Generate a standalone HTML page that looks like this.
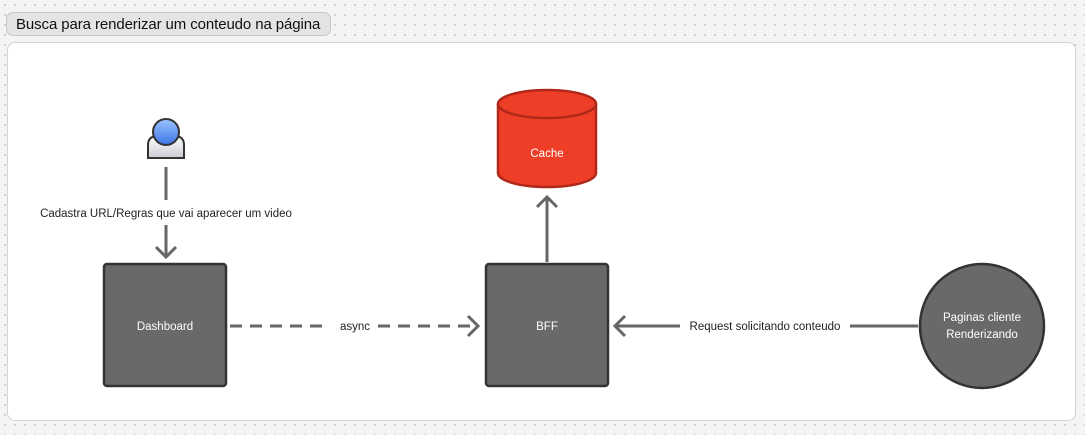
<!DOCTYPE html>
<html><head><style>
body{margin:0;width:1085px;height:435px;overflow:hidden;background:#f4f4f4;background-image:radial-gradient(#c8c8c8 0.8px,transparent 1px);background-size:10px 10px;font-family:"Liberation Sans",sans-serif;position:relative}
.title{position:absolute;left:6px;top:12px;width:325px;height:24px;background:#e4e4e4;border:1px solid #c8c8c8;border-radius:7px;font-size:15px;line-height:24px;padding-left:9px;box-sizing:border-box;color:#111;font-weight:500;letter-spacing:-0.1px}
.frame{position:absolute;left:7px;top:42px;width:1069px;height:379px;background:#fff;border:1px solid #d4d4d4;border-radius:8px;box-sizing:border-box}
</style></head><body>
<div class="title">Busca para renderizar um conteudo na página</div>
<div class="frame"></div>
<svg width="1085" height="435" style="position:absolute;left:0;top:0" font-family="Liberation Sans, sans-serif">
<defs><linearGradient id="g" x1="0" y1="0" x2="0" y2="1"><stop offset="0" stop-color="#9cc3ff"/><stop offset="1" stop-color="#3b74e6"/></linearGradient>
<linearGradient id="b" x1="0" y1="0" x2="0" y2="1"><stop offset="0" stop-color="#fff"/><stop offset="1" stop-color="#c9ccd2"/></linearGradient></defs>
<path d="M148 158 L148 145 Q148 137 156 136 L176 136 Q184 137 184 145 L184 158 Z" fill="url(#b)" stroke="#333" stroke-width="2"/>
<circle cx="166" cy="132" r="13" fill="url(#g)" stroke="#333" stroke-width="2"/>
<g stroke="#666" stroke-width="3" fill="none">
<line x1="166" y1="167" x2="166" y2="200"/>
<line x1="166" y1="225" x2="166" y2="257"/><polyline points="156,247 166,257 176,247"/>
<line x1="230" y1="326" x2="330" y2="326" stroke-dasharray="12,8"/>
<line x1="378" y1="326" x2="478" y2="326" stroke-dasharray="12,8"/><polyline points="468,316 478,326 468,336"/>
<line x1="547" y1="262" x2="547" y2="197"/><polyline points="537,207 547,197 557,207"/>
<line x1="918" y1="326" x2="850" y2="326"/><line x1="680" y1="326" x2="615" y2="326"/><polyline points="625,316 615,326 625,336"/>
</g>
<text x="166" y="217" font-size="11.5" text-anchor="middle" fill="#222">Cadastra URL/Regras que vai aparecer um video</text>
<text x="355" y="330" font-size="11.5" text-anchor="middle" fill="#222">async</text>
<text x="765" y="330" font-size="11.5" text-anchor="middle" fill="#222">Request solicitando conteudo</text>
<rect x="104" y="264" width="122" height="122" rx="3" fill="#696969" stroke="#333" stroke-width="2.5"/>
<text x="165" y="330" font-size="11.5" text-anchor="middle" fill="#fff">Dashboard</text>
<rect x="486" y="264" width="122" height="122" rx="3" fill="#696969" stroke="#333" stroke-width="2.5"/>
<text x="547" y="330" font-size="11.5" text-anchor="middle" fill="#fff">BFF</text>
<circle cx="982" cy="326" r="62" fill="#696969" stroke="#333" stroke-width="2.5"/>
<text x="982" y="321" font-size="11.5" text-anchor="middle" fill="#fff">Paginas cliente</text>
<text x="982" y="338" font-size="11.5" text-anchor="middle" fill="#fff">Renderizando</text>
<path d="M498 104 L498 173 A49 14 0 0 0 596 173 L596 104" fill="#ef3e28" stroke="#b0281a" stroke-width="2.5"/>
<ellipse cx="547" cy="104" rx="49" ry="14" fill="#ef3e28" stroke="#b0281a" stroke-width="2.5"/>
<text x="547" y="157" font-size="11.5" text-anchor="middle" fill="#fff">Cache</text>
</svg>
</body></html>
